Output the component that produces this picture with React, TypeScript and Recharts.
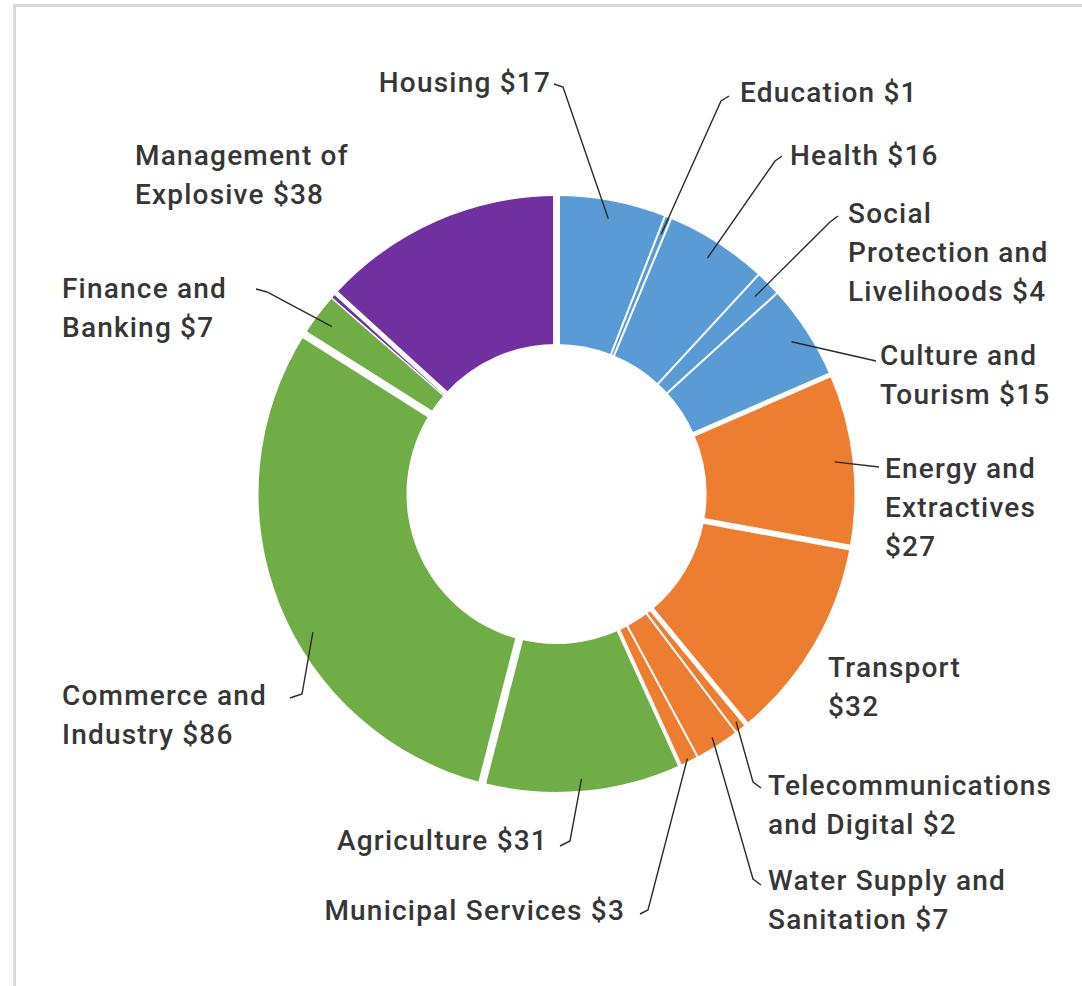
import React from 'react'
import { PieChart, Pie, Cell } from 'recharts'

// sector names ('\n' = line break in the label; trailing '\n' puts the amount on its own line)
const sectors = [
  'Housing',
  'Education',
  'Health',
  'Social\nProtection and\nLivelihoods',
  'Culture and\nTourism',
  'Energy and\nExtractives\n',
  'Transport\n',
  'Telecommunications\nand Digital',
  'Water Supply and\nSanitation',
  'Municipal Services',
  'Agriculture',
  'Commerce and\nIndustry',
  'Finance and\nBanking',
  'Other',
  'Management of\nExplosive',
]
const amounts = [17, 1, 16, 4, 15, 27, 32, 2, 7, 3, 31, 86, 7, 1, 38]
const groups = ['social', 'social', 'social', 'social', 'social', 'infra', 'infra', 'infra', 'infra', 'infra', 'productive', 'productive', 'productive', 'crosscut', 'crosscut']

const groupColors: Record<string, string> = {
  social: '#5B9BD5',
  infra: '#ED7D31',
  productive: '#70AD47',
  crosscut: '#7030A0',
}

// white separator width on the boundary before each sector
const gapBefore = [7, 2, 2, 2, 2, 5, 6, 5, 2, 2, 4, 8, 8, 1.5, 5]

type LabelPos = {
  x: number
  y: number
  anchor: 'start' | 'end'
  r?: number
  da?: number
  elbow?: [number, number]
  stub?: [number, number]
}

const labelPos: (LabelPos | null)[] = [
  { x: 551, y: 92, anchor: 'end', elbow: [563, 87], stub: [554, 84] },
  { x: 740, y: 102, anchor: 'start', elbow: [721, 101], stub: [729, 96] },
  { x: 790, y: 165, anchor: 'start', elbow: [775, 161], stub: [782, 156] },
  { x: 848, y: 223, anchor: 'start', elbow: [830, 222], stub: [838, 216] },
  { x: 880, y: 365, anchor: 'start', stub: [876, 361] },
  { x: 885, y: 478, anchor: 'start', stub: [879, 467] },
  { x: 828, y: 677, anchor: 'start' },
  { x: 768, y: 795, anchor: 'start', r: 290, elbow: [753, 782], stub: [761, 788] },
  { x: 768, y: 890, anchor: 'start', r: 289, elbow: [753, 879], stub: [761, 885] },
  { x: 625, y: 920, anchor: 'end', r: 295, elbow: [648, 910], stub: [640, 914] },
  { x: 548, y: 850, anchor: 'end', r: 286, elbow: [570, 841], stub: [560, 846] },
  { x: 62, y: 705, anchor: 'start', da: 7.9, elbow: [302, 694], stub: [290, 698] },
  { x: 62, y: 298, anchor: 'start', elbow: [267, 292], stub: [256, 289] },
  null,
  { x: 135, y: 165, anchor: 'start' },
]

const data = sectors.map((name, i) => ({ name, value: amounts[i], group: groups[i] }))

const RAD = Math.PI / 180
const polar = (cx: number, cy: number, r: number, angle: number) => ({
  x: cx + r * Math.cos(-angle * RAD),
  y: cy + r * Math.sin(-angle * RAD),
})

const gapLine = (cx: number, cy: number, r0: number, r1: number, angle: number, w: number, key: string) => {
  const a = polar(cx, cy, r0, angle)
  const b = polar(cx, cy, r1, angle)
  return <line key={key} x1={a.x} y1={a.y} x2={b.x} y2={b.y} stroke="#fff" strokeWidth={w} />
}

const renderGaps = (props: any) => {
  const { cx, cy, innerRadius, outerRadius, startAngle, endAngle, index } = props
  return (
    <g key={`gap-${index}`}>
      {gapLine(cx, cy, innerRadius - 2, outerRadius + 2, startAngle, gapBefore[index], 's')}
      {index === amounts.length - 1 &&
        gapLine(cx, cy, innerRadius - 2, outerRadius + 2, endAngle, gapBefore[0], 'e')}
    </g>
  )
}

const LINE_H = 39

const renderLabel = (props: any) => {
  const { cx, cy, outerRadius, midAngle, index } = props
  const pos = labelPos[index]
  if (!pos) return <g key={`lbl-${index}`} />
  const name = sectors[index]
  const text = name + (name.endsWith('\n') ? '' : ' ') + '$' + amounts[index]
  const lines = text.split('\n')
  let leader = null
  if (pos.stub) {
    const p = polar(cx, cy, pos.r ?? outerRadius - 18, midAngle + (pos.da ?? 0))
    const pts = [[p.x, p.y], pos.elbow, pos.stub].filter(Boolean) as number[][]
    leader = (
      <polyline
        points={pts.map((q) => q.join(',')).join(' ')}
        fill="none"
        stroke="#2b2b2b"
        strokeWidth={1.4}
      />
    )
  }
  return (
    <g key={`lbl-${index}`}>
      {leader}
      <text
        textAnchor={pos.anchor}
        fill="#363636"
        fontSize={28}
        fontWeight={500}
        letterSpacing={1.2}
        fontFamily="Roboto, 'Noto Sans', sans-serif"
      >
        {lines.map((l, i) => (
          <tspan key={i} x={pos.x} y={pos.y + i * LINE_H}>
            {l}
          </tspan>
        ))}
      </text>
    </g>
  )
}

export default function App() {
  return (
    <div
      style={{
        position: 'fixed',
        left: 0,
        top: 0,
        width: 1082,
        height: 986,
        overflow: 'hidden',
        background: '#fff',
      }}
    >
      <div
        style={{
          position: 'absolute',
          left: 13,
          top: 4,
          width: 2000,
          height: 2000,
          borderLeft: '3px solid #d9d9d9',
          borderTop: '3px solid #d9d9d9',
        }}
      />
      <div style={{ position: 'absolute', left: 0, top: 0 }}>
        <PieChart width={1082} height={986} margin={{ top: 0, right: 0, bottom: 0, left: 0 }}>
          <Pie
            data={data}
            dataKey="value"
            nameKey="name"
            cx={556.5}
            cy={494}
            innerRadius={150}
            outerRadius={298}
            startAngle={90}
            endAngle={-270}
            stroke="none"
            label={renderGaps}
            labelLine={false}
            isAnimationActive={false}
          >
            {data.map((d, i) => (
              <Cell key={i} fill={groupColors[d.group]} />
            ))}
          </Pie>
          <Pie
            data={data}
            dataKey="value"
            nameKey="name"
            cx={556.5}
            cy={494}
            innerRadius={150}
            outerRadius={298}
            startAngle={90}
            endAngle={-270}
            fill="none"
            stroke="none"
            label={renderLabel}
            labelLine={false}
            isAnimationActive={false}
          />
        </PieChart>
      </div>
    </div>
  )
}
